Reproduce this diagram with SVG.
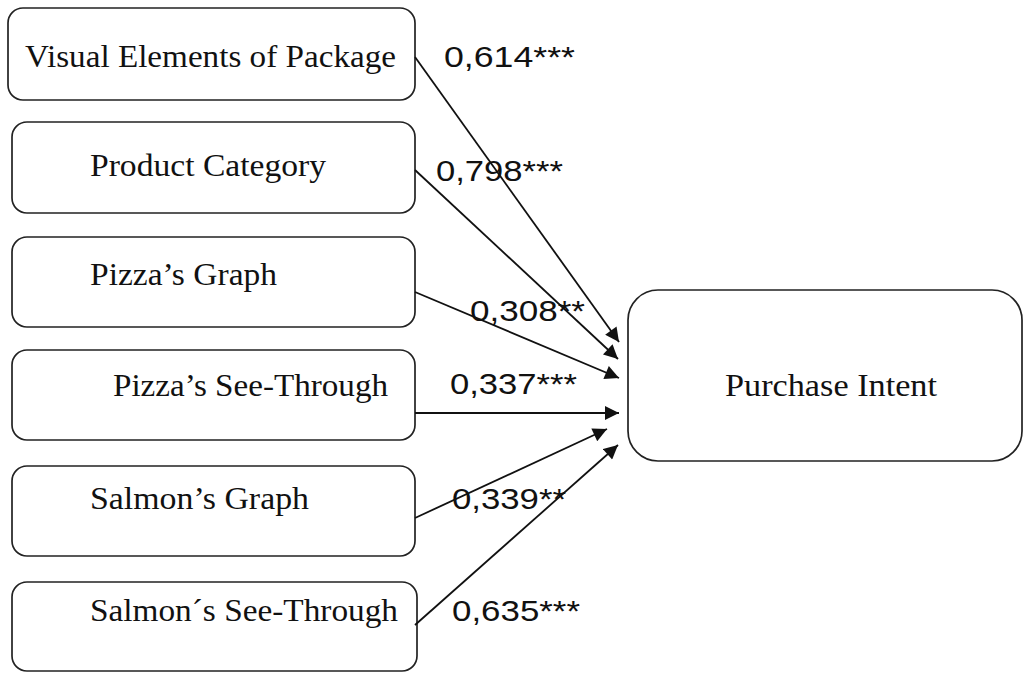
<svg xmlns="http://www.w3.org/2000/svg" width="1024" height="673" viewBox="0 0 1024 673">
<style>
.box{fill:#fff;stroke:#222;stroke-width:1.7}
.t{font-family:"Liberation Serif","Times New Roman",serif;font-size:32px;fill:#111}
.n{font-family:"Liberation Sans",Arial,sans-serif;font-size:29px;fill:#111}
.c line{stroke:#111;stroke-width:1.8;marker-end:url(#ah)}
</style>
<defs>
<marker id="ah" viewBox="0 0 10 10" refX="10" refY="5" markerWidth="15" markerHeight="14" markerUnits="userSpaceOnUse" orient="auto">
<path d="M0,0 L10,5 L0,10 z" fill="#111"/>
</marker>
</defs>
<rect width="1024" height="673" fill="#fff"/>
<g id="n1"><rect class="box" x="8" y="8" width="407" height="92" rx="15"/><text class="t" x="25" y="67" textLength="371" lengthAdjust="spacingAndGlyphs">Visual Elements of Package</text></g>
<g id="n2"><rect class="box" x="12" y="122" width="403" height="91" rx="15"/><text class="t" x="90" y="176" textLength="236" lengthAdjust="spacingAndGlyphs">Product Category</text></g>
<g id="n3"><rect class="box" x="12" y="237" width="403" height="90" rx="15"/><text class="t" x="90" y="285" textLength="187" lengthAdjust="spacingAndGlyphs">Pizza’s Graph</text></g>
<g id="n4"><rect class="box" x="12" y="350" width="403" height="90" rx="15"/><text class="t" x="113" y="396" textLength="275" lengthAdjust="spacingAndGlyphs">Pizza’s See-Through</text></g>
<g id="n5"><rect class="box" x="12" y="466" width="403" height="90" rx="15"/><text class="t" x="90" y="509" textLength="219" lengthAdjust="spacingAndGlyphs">Salmon’s Graph</text></g>
<g id="n6"><rect class="box" x="12" y="582" width="405" height="89" rx="15"/><text class="t" x="90" y="621" textLength="308" lengthAdjust="spacingAndGlyphs">Salmon´s See-Through</text></g>
<g id="n7"><rect class="box" x="628" y="290" width="394" height="171" rx="30"/><text class="t" x="725" y="396" textLength="212" lengthAdjust="spacingAndGlyphs">Purchase Intent</text></g>
<g id="connectors" class="c">
<line x1="415" y1="57" x2="619" y2="342"/>
<line x1="415" y1="170" x2="618" y2="359"/>
<line x1="415" y1="292" x2="619" y2="378"/>
<line x1="415" y1="413" x2="619" y2="413"/>
<line x1="415" y1="518" x2="607" y2="429"/>
<line x1="415" y1="625" x2="618" y2="445"/>
</g>
<g id="labels">
<text class="n" x="444" y="67" textLength="131" lengthAdjust="spacingAndGlyphs">0,614***</text>
<text class="n" x="436" y="181" textLength="127" lengthAdjust="spacingAndGlyphs">0,798***</text>
<text class="n" x="470" y="321" textLength="115" lengthAdjust="spacingAndGlyphs">0,308**</text>
<text class="n" x="450" y="394" textLength="127" lengthAdjust="spacingAndGlyphs">0,337***</text>
<text class="n" x="452" y="509" textLength="114" lengthAdjust="spacingAndGlyphs">0,339**</text>
<text class="n" x="452" y="621" textLength="128" lengthAdjust="spacingAndGlyphs">0,635***</text>
</g>
</svg>
